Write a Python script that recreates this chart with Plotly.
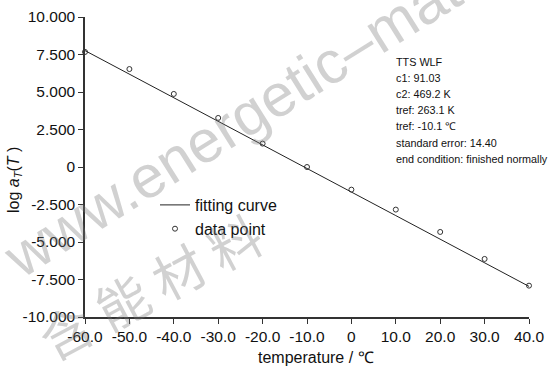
import plotly.graph_objects as go

# ---- data ----
temperature = [-60, -50, -40, -30, -20, -10, 0, 10, 20, 30, 40]
log_aT_points = [7.67, 6.53, 4.87, 3.27, 1.56, 0.0, -1.51, -2.84, -4.33, -6.13, -7.91]
fit_temperature = [-60, -50, -40, -30, -20, -10, 0, 10, 20, 30, 40]
fit_log_aT = [7.76, 6.18, 4.62, 3.04, 1.47, -0.09, -1.67, -3.24, -4.82, -6.40, -7.96]

x_tickvals = [-60, -50, -40, -30, -20, -10, 0, 10, 20, 30, 40]
x_ticktext = ["-60.0", "-50.0", "-40.0", "-30.0", "-20.0", "-10.0", "0", "10.0", "20.0", "30.0", "40.0"]
y_tickvals = [10, 7.5, 5, 2.5, 0, -2.5, -5, -7.5, -10]
y_ticktext = ["10.000", "7.500", "5.000", "2.500", "0", "-2.500", "-5.000", "-7.500", "-10.000"]

info_lines = [
    "TTS WLF",
    "c1: 91.03",
    "c2: 469.2 K",
    "tref: 263.1 K",
    "tref: -10.1 ℃",
    "standard error: 14.40",
    "end condition: finished normally",
]

legend_names = ["fitting curve", "data point"]
x_title = "temperature / ℃"
y_title = "log <i>a</i><sub><i>T</i></sub>(<i>T</i> )"
watermark_url = "www.energetic–materials.org.cn"
watermark_cn = "含 能 材 料"

FONT = "Liberation Sans, Arial, sans-serif"
W, H = 550, 376
L, R, T, B = 85, 21, 17, 59
PW, PH = W - L - R, H - T - B


def px_to_paper(px, py):
    return (px - L) / PW, (H - B - py) / PH


fig = go.Figure()

fig.add_trace(go.Scatter(
    x=fit_temperature, y=fit_log_aT, mode="lines", name=legend_names[0],
    line=dict(color="#222222", width=1), cliponaxis=False,
))
fig.add_trace(go.Scatter(
    x=temperature, y=log_aT_points, mode="markers", name=legend_names[1],
    marker=dict(symbol="circle-open", size=5, color="#333333", line=dict(width=1)),
    cliponaxis=False,
))

annotations = []
WM = "rgba(120,120,120,0.34)"
# watermark (faint)
wx, wy = px_to_paper(370, 37)
annotations.append(dict(text=watermark_url, x=wx, y=wy, xref="paper", yref="paper",
                        xanchor="center", yanchor="middle", showarrow=False, textangle=-32,
                        font=dict(family=FONT, size=60, color=WM)))
cx, cy = px_to_paper(149, 285)
annotations.append(dict(text=watermark_cn, x=cx, y=cy, xref="paper", yref="paper",
                        xanchor="center", yanchor="middle", showarrow=False, textangle=-28,
                        font=dict(family="Noto Sans CJK SC", size=52, color=WM)))

# info text block
for i, line in enumerate(info_lines):
    ax, ay = px_to_paper(394, 62 + 16.1 * i)
    annotations.append(dict(text=line, x=ax, y=ay, xref="paper", yref="paper",
                            xanchor="left", yanchor="middle", showarrow=False,
                            font=dict(family=FONT, size=10.8, color="#111111")))

# axis titles
tx, ty = px_to_paper(316, 357)
annotations.append(dict(text=x_title, x=tx, y=ty, xref="paper", yref="paper",
                        xanchor="center", yanchor="middle", showarrow=False,
                        font=dict(family=FONT, size=16, color="#111111")))
yx, yy = px_to_paper(14, 180)
annotations.append(dict(text=y_title, x=yx, y=yy, xref="paper", yref="paper",
                        xanchor="center", yanchor="middle", showarrow=False, textangle=-90,
                        font=dict(family=FONT, size=16, color="#111111")))

lx, ly = px_to_paper(155, 188)

fig.update_layout(
    width=W, height=H,
    margin=dict(l=L, r=R, t=T, b=B, pad=0, autoexpand=False),
    paper_bgcolor="white", plot_bgcolor="white",
    font=dict(family=FONT, color="#111111"),
    showlegend=True,
    legend=dict(x=lx, y=ly, xanchor="left", yanchor="top", bgcolor="rgba(0,0,0,0)",
                borderwidth=0, font=dict(family=FONT, size=16, color="#111111"),
                tracegroupgap=0),
    annotations=annotations,
)

fig.update_xaxes(
    range=[-60, 40], tickvals=x_tickvals, ticktext=x_ticktext, automargin=False,
    showgrid=False, zeroline=False, showline=True, linecolor="#333333", linewidth=1.5,
    ticks="outside", ticklen=5, tickwidth=1, tickcolor="#333333",
    tickfont=dict(family=FONT, size=15.5, color="#111111"),
)
fig.update_yaxes(
    range=[-10, 10], tickvals=y_tickvals, ticktext=y_ticktext, automargin=False,
    showgrid=False, zeroline=False, showline=True, linecolor="#333333", linewidth=1.5,
    ticks="outside", ticklen=5, tickwidth=1, tickcolor="#333333",
    tickfont=dict(family=FONT, size=15.5, color="#111111"),
)

fig.write_html("out.html", config={"displayModeBar": False},
               post_script="document.body.style.margin='0';")
